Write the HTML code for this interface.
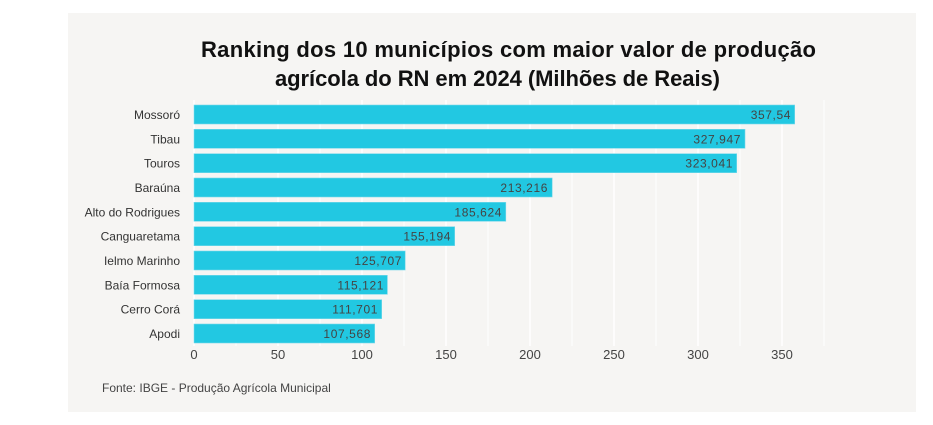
<!DOCTYPE html>
<html><head><meta charset="utf-8"><style>
body{margin:0;background:#fff;width:933px;height:420px;overflow:hidden;font-family:"Liberation Sans",sans-serif}
</style></head><body>
<svg width="933" height="420" xmlns="http://www.w3.org/2000/svg" font-family="Liberation Sans, sans-serif">
<rect x="68" y="13" width="848" height="399" fill="#f6f5f3"/>
<text x="201" y="57" font-size="22" font-weight="bold" fill="#111" textLength="615" lengthAdjust="spacing">Ranking dos 10 municípios com maior valor de produção</text>
<text x="275" y="86" font-size="22" font-weight="bold" fill="#111" textLength="445" lengthAdjust="spacing">agrícola do RN em 2024 (Milhões de Reais)</text>
<g stroke="#fff" stroke-width="1">
<line x1="236" y1="100" x2="236" y2="346"/><line x1="320" y1="100" x2="320" y2="346"/><line x1="404" y1="100" x2="404" y2="346"/><line x1="488" y1="100" x2="488" y2="346"/><line x1="572" y1="100" x2="572" y2="346"/><line x1="656" y1="100" x2="656" y2="346"/><line x1="740" y1="100" x2="740" y2="346"/><line x1="824" y1="100" x2="824" y2="346"/>
</g>
<g stroke="#fff" stroke-width="1.5">
<line x1="194" y1="100" x2="194" y2="346"/><line x1="278" y1="100" x2="278" y2="346"/><line x1="362" y1="100" x2="362" y2="346"/><line x1="446" y1="100" x2="446" y2="346"/><line x1="530" y1="100" x2="530" y2="346"/><line x1="614" y1="100" x2="614" y2="346"/><line x1="698" y1="100" x2="698" y2="346"/><line x1="782" y1="100" x2="782" y2="346"/>
</g>
<g fill="#22c8e2" stroke="#7ad9ea" stroke-width="0.6">
<rect x="194" y="105" width="600.7" height="19"/>
<rect x="194" y="129.3" width="551" height="19"/>
<rect x="194" y="153.7" width="542.7" height="19"/>
<rect x="194" y="178" width="358.2" height="19"/>
<rect x="194" y="202.3" width="311.8" height="19"/>
<rect x="194" y="226.7" width="260.7" height="19"/>
<rect x="194" y="251" width="211.2" height="19"/>
<rect x="194" y="275.3" width="193.4" height="19"/>
<rect x="194" y="299.7" width="187.7" height="19"/>
<rect x="194" y="324" width="180.7" height="19"/>
</g>
<g font-size="12" fill="#444" text-anchor="end" letter-spacing="0.6">
<text x="791" y="119">357,54</text>
<text x="741" y="143.3">327,947</text>
<text x="733" y="167.7">323,041</text>
<text x="548" y="192">213,216</text>
<text x="502" y="216.3">185,624</text>
<text x="451" y="240.7">155,194</text>
<text x="402" y="265">125,707</text>
<text x="384" y="289.3">115,121</text>
<text x="378" y="313.7">111,701</text>
<text x="371" y="338">107,568</text>
</g>
<g font-size="12" fill="#333" text-anchor="end">
<text x="180" y="119">Mossoró</text>
<text x="180" y="143.3">Tibau</text>
<text x="180" y="167.7">Touros</text>
<text x="180" y="192">Baraúna</text>
<text x="180" y="216.3">Alto do Rodrigues</text>
<text x="180" y="240.7">Canguaretama</text>
<text x="180" y="265">Ielmo Marinho</text>
<text x="180" y="289.3">Baía Formosa</text>
<text x="180" y="313.7">Cerro Corá</text>
<text x="180" y="338">Apodi</text>
</g>
<g font-size="13" fill="#444" text-anchor="middle">
<text x="194" y="359">0</text><text x="278" y="359">50</text><text x="362" y="359">100</text><text x="446" y="359">150</text><text x="530" y="359">200</text><text x="614" y="359">250</text><text x="698" y="359">300</text><text x="782" y="359">350</text>
</g>
<text x="102" y="392" font-size="12" fill="#444">Fonte: IBGE - Produção Agrícola Municipal</text>
</svg>
</body></html>
